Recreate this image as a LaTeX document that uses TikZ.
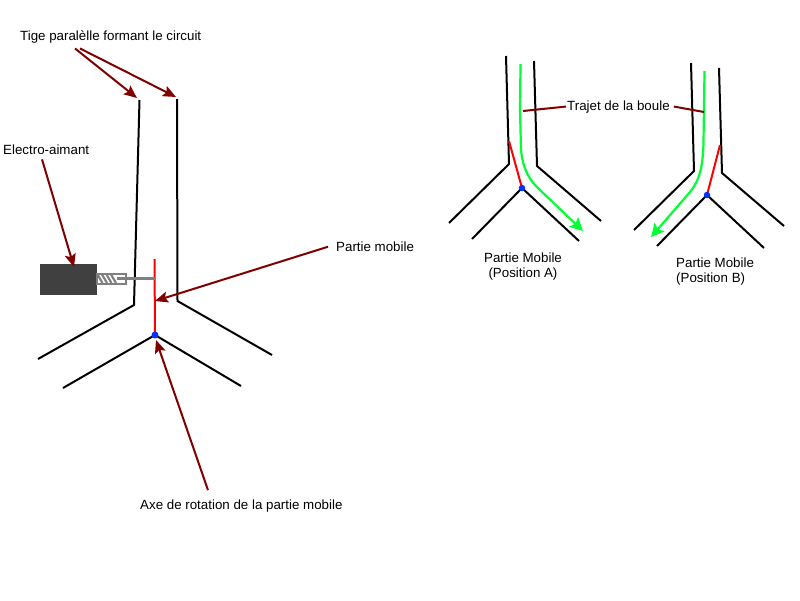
\documentclass[tikz,border=0pt]{standalone}
\usepackage{fontspec}
\setmainfont{Liberation Sans}
\usetikzlibrary{arrows.meta,positioning,calc}
\definecolor{tigeink}{HTML}{000000}
\definecolor{flechered}{HTML}{800000}
\definecolor{mobilered}{HTML}{FF0000}
\definecolor{trajetgreen}{HTML}{00FF33}
\definecolor{axeblue}{HTML}{0033FF}
\definecolor{aimantgray}{HTML}{404040}
\definecolor{tubegray}{HTML}{808080}
\tikzset{
  tige/.style={draw=tigeink, line width=2pt},
  mobile/.style={draw=mobilered, line width=2pt},
  axe/.style={circle, fill=axeblue, inner sep=0pt, minimum size=7pt},
  arr/.style={-{Stealth[length=13pt,width=11pt,inset=2.5pt]}, line width=2pt, color=flechered},
  lead/.style={line width=2pt, color=flechered},
  trajet/.style={-{Stealth[length=13pt,width=13pt,inset=2.5pt]}, line width=2.2pt, color=trajetgreen},
  lbl/.style={font=\fontsize{13.33}{15}\selectfont, inner sep=0pt, align=left},
}
\begin{document}
\begin{tikzpicture}[x=1pt,y=-1pt]
    \useasboundingbox (0,0) rectangle (800,600);
    % grand schema
    \draw[tige] (139.5,100) -- (134,305) -- (38,359);
    \draw[tige] (177,99) -- (177.5,301) -- (272,355);
    \draw[tige] (63,388) -- (155,335) -- (241,386);
    \node[fill=aimantgray, minimum width=57pt, minimum height=31pt, inner sep=0pt] (aimant) at (68.5,279.5) {};
    \node[draw=tubegray, line width=2pt, fill=white, minimum width=29pt, minimum height=10pt, inner sep=0pt] (tube) at (111,278.5) {};
    \foreach \x in {97.5,102,106.5,111}
      \draw[tubegray, line width=2.2pt] (\x,274.5) -- (\x+5,283);
    \coordinate (tige1) at (156,278.5);
    \coordinate (haut) at (154.5,259);
    \draw[mobile] (haut) -- (155,335);
    \draw[tubegray, line width=2.5pt] (117,278.5) -- (tige1);
    \node[axe] (pivot) at (155,335) {};
    % labels
    \node[lbl, anchor=base west] (circuit) at (20,40.5) {Tige paralèlle formant le circuit};
    \node[lbl, anchor=base west] (electro) at (3,154) {Electro-aimant};
    \node[lbl, anchor=base west] (partie) at (336,251.5) {Partie mobile};
    \node[lbl, anchor=base west] (rotation) at (140,509) {Axe de rotation de la partie mobile};
    \coordinate (haut1) at (137,98);
    \coordinate (haut2) at (176,97);
    \coordinate (bobine) at (74,267);
    \coordinate (levier) at (155,301);
    \coordinate (base) at (156,340);
    \draw[arr] ([xshift=55pt,yshift=-5pt]circuit.south west) -- (haut1);
    \draw[arr] ([xshift=60pt,yshift=-5pt]circuit.south west) -- (haut2);
    \draw[arr] ([xshift=39pt,yshift=-5pt]electro.south west) -- (bobine);
    \draw[arr] ([xshift=-8pt]partie.west) -- (levier);
    \draw[arr] ([xshift=68pt,yshift=9pt]rotation.north west) -- (base);
    % position A
    \draw[tige] (506,56) -- (509,164) -- (449,223);
    \draw[tige] (534,61) -- (537,166) -- (601,221);
    \draw[tige] (472,239) -- (522,188) -- (579,241);
    \draw[mobile] (509,141) -- (522,188);
    \node[axe, minimum size=6.5pt] (pivotA) at (522,188) {};
    \coordinate (finA) at (583,231);
    \draw[trajet] (520.5,64) -- (520,110) -- (521,150) .. controls (523,170) and (530,181) .. (540,190) -- (finA);
    % position B
    \draw[tige] (691,63) -- (694,171) -- (634,230);
    \draw[tige] (719,68) -- (722,173) -- (784,226);
    \draw[tige] (657,246) -- (707,195) -- (764,248);
    \draw[mobile] (720,145) -- (707,195);
    \node[axe, minimum size=6.5pt] (pivotB) at (707,195) {};
    \coordinate (finB) at (651,237);
    \draw[trajet] (704.5,71) -- (703.5,142) .. controls (703,165) and (700,180) .. (690,192) -- (finB);
    % labels droite
    \node[lbl, anchor=base west] (boule) at (567,110) {Trajet de la boule};
    \coordinate (trajetA) at (523,111);
    \coordinate (trajetB) at (704,112);
    \draw[lead] ([xshift=-1pt]boule.west) -- (trajetA);
    \draw[lead] ([xshift=4pt]boule.east) -- (trajetB);
    \node[lbl, align=center, anchor=north] (posA) at (523,253) {Partie Mobile\\(Position A)};
    \node[lbl, anchor=north west] (posB) at (676,258) {Partie Mobile\\(Position B)};
\end{tikzpicture}
\end{document}
